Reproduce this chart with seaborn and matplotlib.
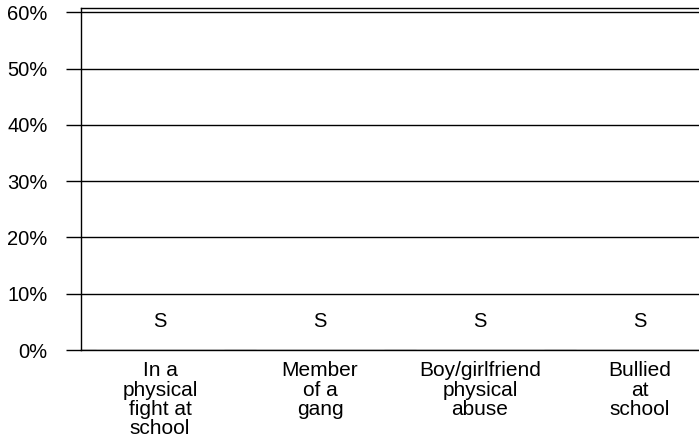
import matplotlib
matplotlib.use("Agg")
import matplotlib.pyplot as plt
import seaborn as sns
import pandas as pd
from matplotlib.ticker import PercentFormatter

# data: all estimates suppressed ("S"), bars drawn at 0
categories = ["In a\nphysical\nfight at\nschool", "Member\nof a\ngang",
              "Boy/girlfriend\nphysical\nabuse", "Bullied\nat\nschool"]
values = [0, 0, 0, 0]
flags = ["S", "S", "S", "S"]
label_y = 5  # where the S flag sits
yticks = [0, 10, 20, 30, 40, 50, 60]

sns.set_style("white")
plt.rcParams['font.family'] = ['Liberation Sans', 'DejaVu Sans']
plt.rcParams['text.color'] = 'black'
plt.rcParams['xtick.color'] = 'black'
plt.rcParams['ytick.color'] = 'black'

df = pd.DataFrame({"cat": categories, "val": values})

fig = plt.figure(figsize=(6.99, 4.40), dpi=100)
ax = fig.add_axes([81/699, 1 - 350/440, 1 - 81/699, (350 - 8.3)/440])

sns.barplot(data=df, x="cat", y="val", color="#4a7ebb", ax=ax)

for i, f in enumerate(flags):
    ax.text(i, label_y, f, ha="center", va="center", fontsize=14.5, color="black")

ax.set_xlim(-0.494, 3.369)
ax.set_ylim(0, 60.7)
ax.set_yticks(yticks)
ax.yaxis.set_major_formatter(PercentFormatter(decimals=0))
ax.grid(axis="y", color="black", linewidth=1)
ax.set_axisbelow(True)
ax.tick_params(axis="y", length=11, width=1, color="black", pad=13, labelsize=14.5,
               direction="out", left=True, labelcolor="black")
ax.tick_params(axis="x", length=0, pad=8, labelcolor="black")
for lab in ax.get_xticklabels():
    lab.set_fontsize(15)
    lab.set_linespacing(1.03)
    lab.set_va("top")
ax.set_xlabel("")
ax.set_ylabel("")

for s in ["left", "bottom", "top"]:
    ax.spines[s].set_color("black")
    ax.spines[s].set_linewidth(1)
ax.spines["right"].set_visible(False)

fig.savefig("out.png", dpi=100)
